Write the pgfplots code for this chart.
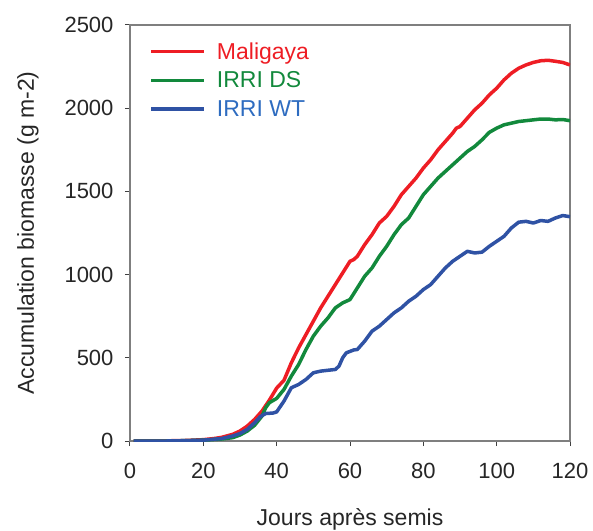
\documentclass[border=0pt]{standalone}
\usepackage{fontspec}
\setmainfont{Liberation Sans}
\usepackage{pgfplots}
\pgfplotsset{compat=1.18}

\definecolor{cRed}{HTML}{EE1D24}
\definecolor{cGreen}{HTML}{12893C}
\definecolor{cBlue}{HTML}{2F52A4}
\definecolor{cBlueTxt}{HTML}{2E6CC0}
\definecolor{axgray}{HTML}{7F7F7F}

\begin{document}
\begin{tikzpicture}
\begin{axis}[
  scale only axis,
  width=440pt, height=416pt,
  xmin=0, xmax=120, ymin=0, ymax=2500,
  xtick={0,20,...,120},
  ytick={0,500,...,2500},
  tick align=outside,
  tick pos=left,
  major tick length=5pt,
  axis line style={axgray, line width=1.3pt},
  tick style={black!75, line width=1pt},
  /pgf/number format/assume math mode=true,
  /pgf/number format/1000 sep={},
  ticklabel style={font=\fontsize{22}{26}\selectfont, text=black!85},
  xticklabel style={yshift=-14pt},
  yticklabel style={xshift=-8pt},
  label style={font=\fontsize{23}{27}\selectfont, text=black!85},
  xlabel={Jours après semis},
  xlabel style={yshift=-23pt},
  ylabel={Accumulation biomasse (g m-2)},
  ylabel style={yshift=19pt},
  legend style={at={(rel axis cs:0.037,0.968)}, anchor=north west,
    draw=none, fill=none, font=\fontsize{23}{27}\selectfont,
    row sep=7pt},
  legend cell align=left,
  legend image code/.code={\draw[#1, line width=3.5pt] (0pt,0pt) -- (53pt,0pt);
    \path (62pt,0pt);},
  every axis plot/.append style={line width=3.5pt, line join=round},
]
% Maligaya
\addplot[cRed] coordinates {
(1,0) (10,1) (15,3) (20,8) (23,15) (25,22) (28,40) (30,60) (32,90) (34,130)
(36,180) (38,245) (40,318) (42,365) (44,470) (46,560) (48,640) (50,720)
(52,800) (54,870) (56,940) (58,1010) (60,1080) (61,1090) (62,1110) (64,1180)
(66,1240) (68,1310) (70,1350) (72,1410) (74,1480) (76,1530) (78,1580)
(80,1640) (82,1690) (84,1750) (86,1800) (88,1850) (89,1880) (90,1890)
(92,1940) (94,1990) (96,2030) (98,2080) (100,2120) (102,2170) (104,2210)
(106,2240) (108,2260) (110,2275) (112,2285) (114,2288) (116,2282)
(118,2275) (120,2260)};
\addlegendentry{\textcolor{cRed}{Maligaya}}
% IRRI DS
\addplot[cGreen] coordinates {
(1,0) (10,0) (15,2) (20,5) (25,12) (28,20) (30,36) (32,60) (34,95) (36,150)
(37,200) (38,230) (40,256) (42,310) (44,390) (46,460) (48,550) (50,630)
(52,690) (54,740) (56,800) (58,830) (60,850) (62,920) (64,990) (66,1040)
(68,1110) (70,1170) (72,1240) (74,1300) (76,1340) (78,1410) (80,1480)
(82,1530) (84,1580) (86,1620) (88,1660) (90,1700) (92,1740) (94,1770)
(96,1810) (98,1855) (100,1880) (102,1900) (104,1910) (106,1920) (108,1925)
(110,1930) (112,1935) (114,1935) (116,1930) (118,1932) (120,1925)};
\addlegendentry{\textcolor{cGreen}{IRRI DS}}
% IRRI WT
\addplot[cBlue] coordinates {
(1,0) (10,0) (15,2) (20,5) (25,15) (28,30) (30,45) (32,70) (34,110) (35.5,146)
(37,165) (39,168) (40,175) (42,240) (44,320) (46,340) (48,370) (50,410)
(52,420) (54,425) (56,430) (57,450) (58,500) (59,530) (61,547) (62,550)
(64,600) (66,660) (68,690) (70,730) (72,770) (74,800) (76,840) (78,870)
(80,910) (82,940) (84,990) (86,1040) (88,1080) (90,1110) (92,1140)
(94,1130) (96,1135) (98,1170) (100,1200) (102,1230) (104,1280) (106,1315)
(108,1320) (110,1310) (112,1325) (114,1320) (116,1340) (118,1355) (120,1348)};
\addlegendentry{\textcolor{cBlueTxt}{IRRI WT}}
\end{axis}
% page frame around the axis and its labels
\pgfresetboundingbox
\path (current axis.south west) ++(-130pt,-89pt) rectangle ++(593pt,530pt);
\end{tikzpicture}
\end{document}
